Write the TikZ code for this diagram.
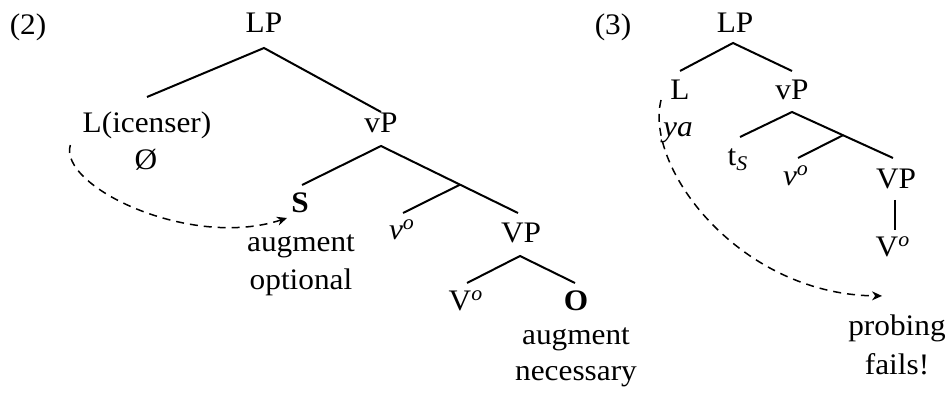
\documentclass[tikz,border=0pt]{standalone}
\usepackage{fontspec}
\setmainfont{Liberation Serif}[FakeStretch=1.05]
\usetikzlibrary{calc,arrows.meta}
\begin{document}
\begin{tikzpicture}[x=0.5pt,y=-0.5pt,
  T/.style={anchor=base,inner sep=0pt,font=\fontsize{14.9pt}{18pt}\selectfont},
  edge/.style={line width=1pt},
  probe/.style={line width=0.75pt,dash pattern=on 4pt off 3pt,-{Stealth[length=5pt,width=4.5pt]}}]
\useasboundingbox (0,0) rectangle (951,394);

% ---------------- tree (2)
\node[T] (lab2) at (28,35) {(2)};
\node[T] (LPa) at (264,33) {LP};
\node[T] (Lic) at (147,133) {L(icenser)};
\node[T] (zero) at (146,170) {Ø};
\node[T] (vPa) at (381,133) {vP};
\node[T] (Sa) at (300,213) {\textbf{S}};
\node[T] (aug1) at (301,252) {augment};
\node[T] (opt) at (301,290) {optional};
\node[T] (nua) at (402,240) {\textit{ν}\textsuperscript{\textit{o}}};
\node[T] (VPa) at (521,243) {VP};
\node[T] (Voa) at (466,311) {V\textsuperscript{\textit{o}}};
\node[T] (Oa) at (576,311) {\textbf{O}};
\node[T] (aug2) at (576,345) {augment};
\node[T] (nec) at (576,380) {necessary};

\draw[edge] ($(Lic.base)+(0,-36)$) -- ($(LPa.base)+(0,15)$) -- ($(vPa.base)+(0,-21)$);
\path ($(vPa.base)+(0,13)$) coordinate (vPa-f) ($(VPa.base)+(-3,-30)$) coordinate (VPa-h);
\draw[edge] ($(Sa.base)+(2,-28)$) -- (vPa-f) -- (VPa-h);
\coordinate (ba) at ($(vPa-f)!0.577!(VPa-h)$);
\draw[edge] (ba) -- ($(nua.base)+(1,-27)$);
\draw[edge] ($(Voa.base)+(1,-28)$) -- ($(VPa.base)+(-1,13)$) -- ($(Oa.base)+(-1,-28)$);

\draw[probe] ($(Lic.base west)+(-12,12)$) .. controls (58,186) and (190,250) .. ($(Sa.base)+(-13,5)$);

% ---------------- tree (3)
\node[T] (lab3) at (613,35) {(3)};
\node[T] (LPb) at (735,33) {LP};
\node[T] (Lb) at (680,100) {L};
\node[T] (vPb) at (792,100) {vP};
\node[T] (ya) at (678,137) {\textit{ya}};
\node[T] (tS) at (738,166) {t\textsubscript{\textit{S}}};
\node[T] (nub) at (796,186) {\textit{ν}\textsuperscript{\textit{o}}};
\node[T] (VPb) at (896,189) {VP};
\node[T] (Vob) at (893,257) {V\textsuperscript{\textit{o}}};
\node[T] (prob) at (897,336) {probing};
\node[T] (fails) at (897,374) {fails!};

\draw[edge] ($(Lb.base)+(0,-29)$) -- ($(LPb.base)+(-2,10)$) -- ($(vPb.base)+(0,-29)$);
\path ($(vPb.base)+(0,12)$) coordinate (vPb-f) ($(VPb.base)+(-3,-31)$) coordinate (VPb-h);
\draw[edge] ($(tS.base)+(2,-29)$) -- (vPb-f) -- (VPb-h);
\coordinate (bb) at ($(vPb-f)!0.505!(VPb-h)$);
\draw[edge] (bb) -- ($(nub.base)+(2,-28)$);
\draw[edge] ($(VPb.base)+(-1,11)$) -- ($(Vob.base)+(2,-27)$);

\draw[probe] ($(Lb.base west)+(-9,0)$) .. controls (644,168) and (740,295) .. ($(prob.north)+(-15,-19)$);
\end{tikzpicture}
\end{document}
